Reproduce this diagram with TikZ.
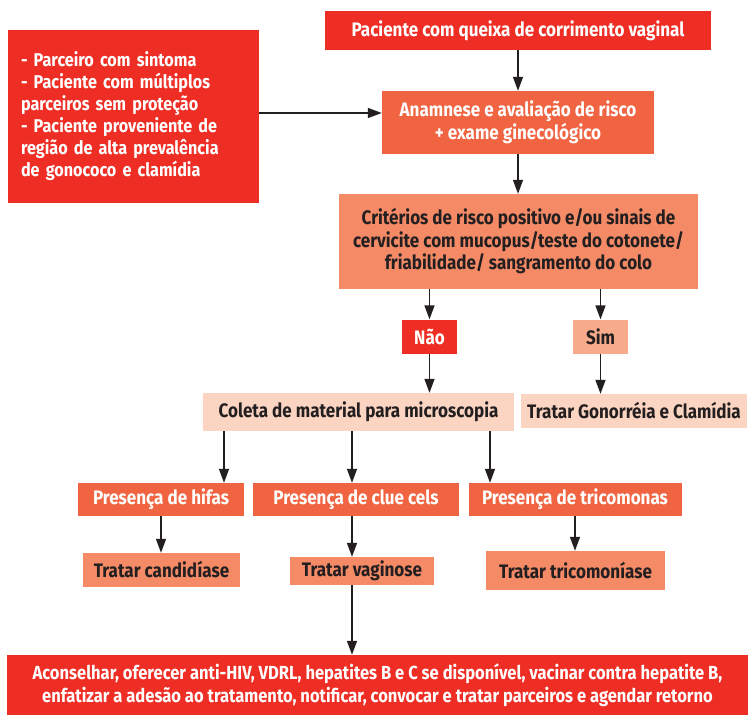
\documentclass[tikz,border=0pt]{standalone}
\usepackage{fontspec}
\setmainfont{Fira Sans}[FakeStretch=0.875]
\usetikzlibrary{arrows.meta}
\definecolor{cred}{HTML}{EE2E24}
\definecolor{corange}{HTML}{F06441}
\definecolor{csalmon}{HTML}{F48A66}
\definecolor{clight}{HTML}{F8AB8B}
\definecolor{cpeach}{HTML}{FCD5C2}
\definecolor{cink}{HTML}{231F20}
\begin{document}
\begin{tikzpicture}[x=1pt,y=-1pt,
  box/.style={inner sep=0pt, align=center, font=\fontsize{19.5}{22.5}\selectfont\bfseries},
  redbox/.style={box, fill=cred, text=white},
  orangebox/.style={box, fill=corange, text=white},
  salmonbox/.style={box, fill=csalmon, text=cink},
  lightbox/.style={box, fill=clight, text=cink},
  peachbox/.style={box, fill=cpeach, text=cink},
  arr/.style={draw=cink, line width=1.6pt, -{Triangle[length=14pt,width=10pt]}}
]
\fill[white] (0,0) rectangle (748,715);
\useasboundingbox (0,0) rectangle (748,715);

% top of the flow
\node[redbox, minimum width=386pt, minimum height=39pt] (top) at (518,30.5)
  {Paciente com queixa de corrimento vaginal};
\node[redbox, minimum width=251pt, minimum height=173pt, text width=225pt, align=left,
      font=\fontsize{18.5}{22}\selectfont\bfseries] (risk) at (133.5,116.5)
  {- Parceiro com sintoma\\- Paciente com múltiplos\\parceiros sem proteção\\- Paciente proveniente de\\região de alta prevalência\\de gonococo e clamídia};
\node[orangebox, minimum width=272pt, minimum height=63pt] (anam) at (518,122.5)
  {Anamnese e avaliação de risco\\+ exame ginecológico};
\node[salmonbox, minimum width=359pt, minimum height=95pt] (crit) at (518.5,241.5)
  {Critérios de risco positivo e/ou sinais de\\cervicite com mucopus/teste do cotonete/\\friabilidade/ sangramento do colo};

% decision
\node[redbox, minimum width=55pt, minimum height=34pt] (nao) at (429.5,336.5) {Não};
\node[lightbox, minimum width=55pt, minimum height=34pt] (sim) at (600.5,336.5) {Sim};
\node[peachbox, minimum width=311pt, minimum height=38pt] (coleta) at (358.5,412) {Coleta de material para microscopia};
\node[peachbox, minimum width=226pt, minimum height=34pt] (gono) at (634,411) {Tratar Gonorréia e Clamídia};

% microscopy findings
\node[orangebox, minimum width=166pt, minimum height=33pt] (hifas) at (161,499.5) {Presença de hifas};
\node[orangebox, minimum width=206pt, minimum height=33pt] (clue) at (356,499.5) {Presença de clue cels};
\node[orangebox, minimum width=213pt, minimum height=33pt] (trico) at (575,499.5) {Presença de tricomonas};

% treatments
\node[salmonbox, minimum width=157pt, minimum height=34pt] (cand) at (161.5,570) {Tratar candidíase};
\node[salmonbox, minimum width=144pt, minimum height=28pt] (vagi) at (362,571) {Tratar vaginose};
\node[salmonbox, minimum width=179pt, minimum height=39pt] (tricot) at (575.5,570.5) {Tratar tricomoníase};

\node[redbox, minimum width=741pt, minimum height=60pt, font=\fontsize{18.9}{22.5}\selectfont\bfseries] (final) at (377.5,685)
  {Aconselhar, oferecer anti-HIV, VDRL, hepatites B e C se disponível, vacinar contra hepatite B,\\enfatizar a adesão ao tratamento, notificar, convocar e tratar parceiros e agendar retorno};

% connectors
\draw[arr] (top.south -| 518,0) -- (anam.north -| 518,0);
\draw[arr] (risk.east |- 0,113) -- (anam.west |- 0,113);
\draw[arr] (anam.south -| 518,0) -- (crit.north -| 518,0);
\draw[arr] (crit.south -| nao) -- (nao.north);
\draw[arr] (crit.south -| sim) -- (sim.north);
\draw[arr] (nao.south) -- (coleta.north -| nao);
\draw[arr] (sim.south) -- (gono.north -| sim);
\draw[arr] (coleta.south -| 224,0) -- (hifas.north -| 224,0);
\draw[arr] (coleta.south -| 352,0) -- (clue.north -| 352,0);
\draw[arr] (coleta.south -| 490,0) -- (trico.north -| 490,0);
\draw[arr] (hifas.south -| 161,0) -- (cand.north -| 161,0);
\draw[arr] (clue.south -| 352,0) -- (vagi.north -| 352,0);
\draw[arr] (trico.south -| 575,0) -- (tricot.north -| 575,0);
\draw[arr] (vagi.south -| 352,0) -- (final.north -| 352,0);
\end{tikzpicture}
\end{document}
